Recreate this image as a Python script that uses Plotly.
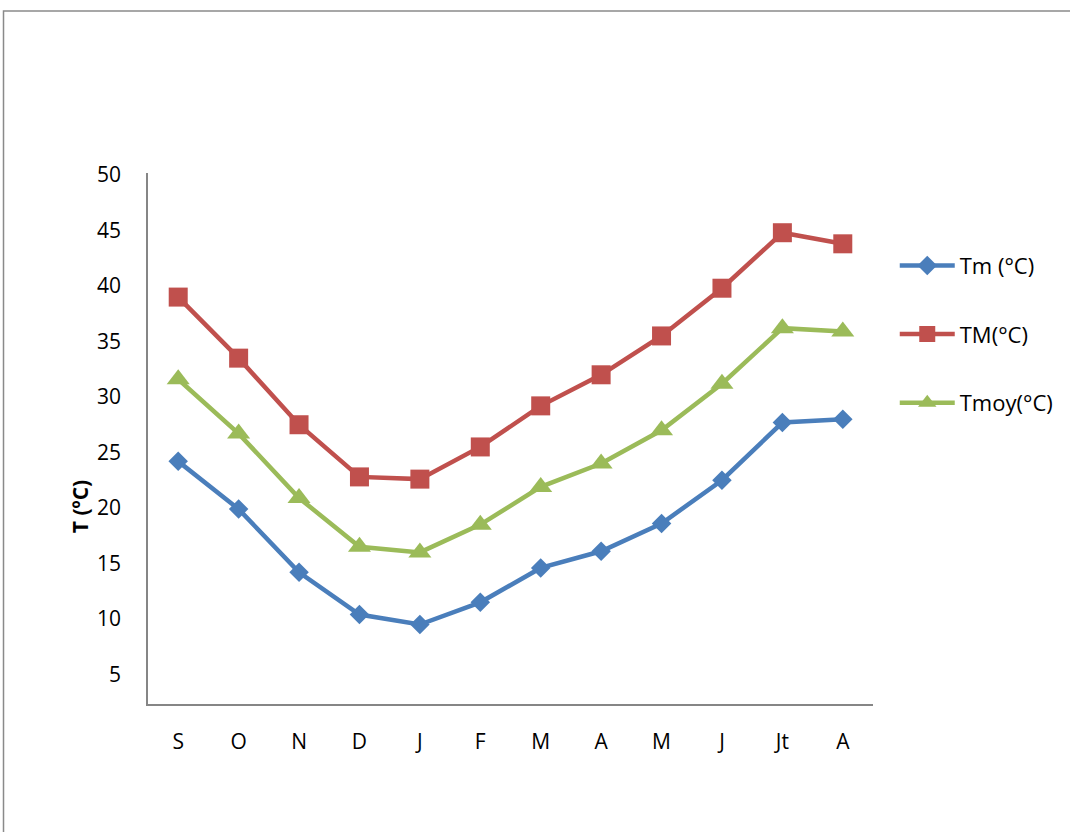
import plotly.graph_objects as go

# Monthly temperatures over the hydrological year (September -> August)
months = ["S", "O", "N", "D", "J", "F", "M", "A", "M", "J", "Jt", "A"]
t_min = [24.2, 19.9, 14.2, 10.4, 9.5, 11.5, 14.6, 16.1, 18.6, 22.5, 27.7, 28.0]
t_max = [39.0, 33.5, 27.5, 22.8, 22.6, 25.5, 29.2, 32.0, 35.5, 39.8, 44.8, 43.8]
t_mean = [31.6, 26.7, 20.9, 16.5, 16.0, 18.5, 21.9, 24.0, 27.0, 31.2, 36.2, 35.9]
y_ticks = [5, 10, 15, 20, 25, 30, 35, 40, 45, 50]

FONT = "Open Sans"
x = list(range(len(months)))

series = [
    ("Tm (°C)", t_min, "#4a7ebb", "diamond", 15),
    ("TM(°C)", t_max, "#c0504d", "square", 19),
    ("Tmoy(°C)", t_mean, "#9bbb59", "triangle-up", 20),
]

fig = go.Figure()
for i, (name, vals, color, symbol, msize) in enumerate(series):
    fig.add_trace(go.Scatter(
        x=x, y=vals, name=name, mode="lines+markers",
        legendgroup=f"g{i}",
        line=dict(color=color, width=4.5),
        marker=dict(symbol=symbol, size=msize, color=color,
                    line=dict(width=0)),
    ))

fig.update_layout(
    width=1070, height=832,
    margin=dict(l=148, r=197, t=173, b=128),
    paper_bgcolor="white", plot_bgcolor="white",
    font=dict(family=FONT, size=21, color="black"),
    showlegend=True,
    legend=dict(
        x=1.03, y=0.865, xanchor="left", yanchor="top",
        font=dict(family=FONT, size=22, color="black"),
        tracegroupgap=37, bgcolor="rgba(0,0,0,0)",
        itemwidth=55,
    ),
    xaxis=dict(
        range=[-0.5, len(months) - 0.5],
        tickmode="array", tickvals=x, ticktext=months,
        showline=True, linecolor="#868686", linewidth=1.5,
        showgrid=False, zeroline=False, ticks="",
        ticklabelstandoff=18,
        tickfont=dict(family=FONT, size=21),
    ),
    yaxis=dict(
        range=[2.34, 50.18],
        tickmode="array", tickvals=y_ticks,
        showline=True, linecolor="#868686", linewidth=1.5,
        showgrid=False, zeroline=False, ticks="",
        ticklabelstandoff=21,
        tickfont=dict(family=FONT, size=21),
    ),
    annotations=[dict(
        text="<b>T (ºC)</b>", textangle=-90,
        xref="paper", yref="paper", x=-0.0935, y=0.371,
        xanchor="center", yanchor="middle", showarrow=False,
        font=dict(family=FONT, size=21, color="black"),
    )],
    shapes=[dict(
        type="rect", xref="paper", yref="paper",
        x0=-0.1993, x1=1.29, y0=-0.27, y1=1.305,
        line=dict(color="#8a8a8a", width=1.5), fillcolor="rgba(0,0,0,0)",
        layer="below",
    )],
)

fig.write_html("out.html")
